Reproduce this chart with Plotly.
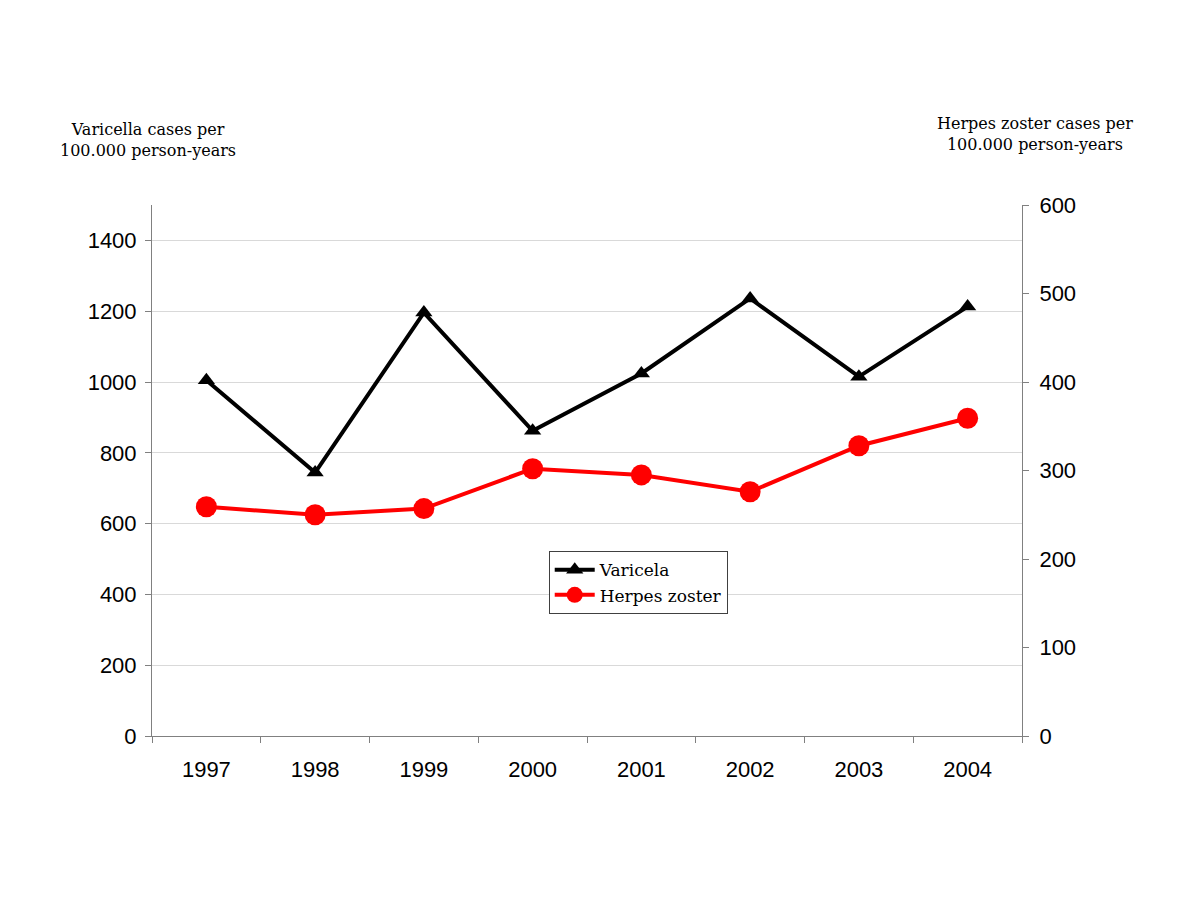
import plotly.graph_objects as go

years = ["1997", "1998", "1999", "2000", "2001", "2002", "2003", "2004"]
varicela = [1005, 744, 1196, 862, 1024, 1236, 1015, 1213]
herpes = [259, 250, 257, 302, 295, 276, 328, 359]

left_ticks = [0, 200, 400, 600, 800, 1000, 1200, 1400]
right_ticks = [0, 100, 200, 300, 400, 500, 600]

fig = go.Figure()
fig.add_trace(go.Scatter(
    x=years, y=varicela, name="Varicela", mode="lines+markers",
    line=dict(color="black", width=4),
    marker=dict(symbol="triangle-up", size=15, color="black"),
    yaxis="y",
))
fig.add_trace(go.Scatter(
    x=years, y=herpes, name="Herpes zoster", mode="lines+markers",
    line=dict(color="#ff0000", width=4),
    marker=dict(symbol="circle", size=21, color="#ff0000"),
    yaxis="y2",
))

serif = "DejaVu Serif, Liberation Serif, serif"
sans = "Liberation Sans, Arial, sans-serif"

fig.update_layout(
    width=1200, height=900,
    paper_bgcolor="white", plot_bgcolor="white",
    margin=dict(l=144, r=186, t=197, b=172),
    xaxis=dict(
        type="category", range=[-0.5, 7.5],
        showline=True, linecolor="#808080", linewidth=1,
        ticks="outside", ticklen=6, tickcolor="#808080", tickson="boundaries",
        showgrid=False, tickfont=dict(family=sans, size=22, color="black"),
        zeroline=False, ticklabelstandoff=14,
    ),
    yaxis=dict(
        range=[0, 1500], tickvals=left_ticks,
        showline=True, linecolor="#808080", linewidth=1,
        ticks="outside", ticklen=6, tickcolor="#808080",
        showgrid=True, gridcolor="#d9d9d9", gridwidth=1,
        tickfont=dict(family=sans, size=22, color="black"),
        zeroline=False, ticklabelstandoff=4,
    ),
    yaxis2=dict(
        range=[0, 600], tickvals=right_ticks, overlaying="y", side="right",
        showline=True, linecolor="#808080", linewidth=1,
        ticks="outside", ticklen=6, tickcolor="#808080",
        showgrid=False, tickfont=dict(family=sans, size=22, color="black"),
        zeroline=False, ticklabelstandoff=6,
    ),
    legend=dict(
        x=0.456, y=0.348, xanchor="left", yanchor="top",
        bordercolor="#404040", borderwidth=1, bgcolor="white",
        font=dict(family=serif, size=17, color="black"),
        tracegroupgap=0, itemwidth=40,
    ),
    showlegend=True,
    annotations=[
        dict(text="Varicella cases per<br>100.000 person-years", xref="paper", yref="paper",
             x=(148 - 152) / 870, y=(736 - 140) / 531, xanchor="center", yanchor="middle",
             showarrow=False, align="center", font=dict(family=serif, size=16, color="black")),
        dict(text="Herpes zoster cases per<br>100.000 person-years", xref="paper", yref="paper",
             x=(1035 - 152) / 870, y=(736 - 134) / 531, xanchor="center", yanchor="middle",
             showarrow=False, align="center", font=dict(family=serif, size=16, color="black")),
    ],
)

fig.write_html("out.html")
